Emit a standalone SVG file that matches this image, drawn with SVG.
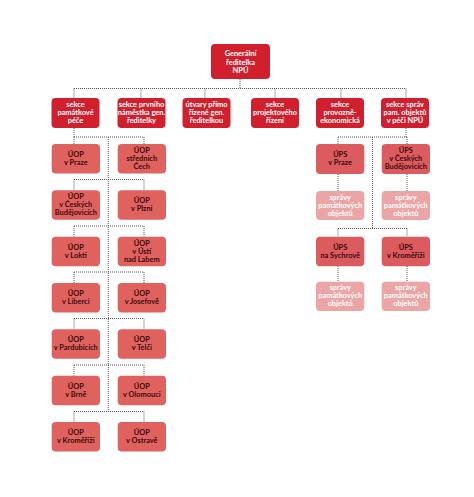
<svg xmlns="http://www.w3.org/2000/svg" width="474" height="497" viewBox="0 0 474 497">
<style>
text{font-family:Lato,"Open Sans","DejaVu Sans",sans-serif;font-weight:bold;font-size:7.4px;text-anchor:middle}
.d rect{fill:#d11f2e}
.d text{fill:#fff}
.u rect{fill:#e0625f}
.u text{fill:#3d0a0c}
.p rect{fill:#dc5b5e}
.p text{fill:#3d0a0c}
.s rect{fill:#eba5a6}
.s text{fill:#fff}
#connectors path{fill:none;stroke:#555;stroke-width:1;stroke-dasharray:1 1}
</style>
<rect width="474" height="497" fill="#fff"/>
<g id="connectors">
<path d="M240 79V88.5M74 88.5H406M74 88.5V98M141 88.5V98M205 88.5V98M275 88.5V98M341 88.5V98M406 88.5V98"/>
<path d="M74 128V137M74 137H144M108.3 137V411.5M74 137V144M144 137V144"/>
<path d="M74 179.5H144M74 179.5V190.3M144 179.5V190.3"/>
<path d="M74 226H144M74 226V236.7M144 226V236.7"/>
<path d="M74 272H144M74 272V283M144 272V283"/>
<path d="M74 318.5H144M74 318.5V329.3M144 318.5V329.3"/>
<path d="M74 365H144M74 365V375.7M144 365V375.7"/>
<path d="M74 411.5H144M74 411.5V422M144 411.5V422"/>
<path d="M406 128V137M338 137H407M372.5 137V228.5M338 137V144M407 137V144M338 228.5H407M338 228.5V236.7M407 228.5V236.7"/>
<path d="M338 174V191M407 174V191M338 266V281.7M407 266V281.7"/>
</g>
<g id="n-gr" class="d"><rect x="211" y="44" width="59" height="35" rx="4"/><text x="240.5" y="56.3">Generální</text><text x="240.5" y="64.6">ředitelka</text><text x="240.5" y="72.9">NPÚ</text></g>
<g id="n-s1" class="d"><rect x="51.5" y="98" width="48" height="30" rx="4"/><text x="75.5" y="107">sekce</text><text x="75.5" y="115">památkové</text><text x="75.5" y="123">péče</text></g>
<g id="n-s2" class="d"><rect x="117.5" y="98" width="48" height="30" rx="4"/><text x="141.5" y="107">sekce prvního</text><text x="141.5" y="115">náměstka gen.</text><text x="141.5" y="123">ředitelky</text></g>
<g id="n-s3" class="d"><rect x="182.5" y="98" width="48" height="30" rx="4"/><text x="206.5" y="107">útvary přímo</text><text x="206.5" y="115">řízené gen.</text><text x="206.5" y="123">ředitelkou</text></g>
<g id="n-s4" class="d"><rect x="251" y="98" width="48" height="30" rx="4"/><text x="275" y="107">sekce</text><text x="275" y="115">projektového</text><text x="275" y="123">řízení</text></g>
<g id="n-s5" class="d"><rect x="316" y="98" width="48" height="30" rx="4"/><text x="340" y="107">sekce</text><text x="340" y="115">provozně-</text><text x="340" y="123">ekonomická</text></g>
<g id="n-s6" class="d"><rect x="381" y="98" width="48" height="30" rx="4"/><text x="405" y="107">sekce správ</text><text x="405" y="115">pam. objektů</text><text x="405" y="123">v péči NPÚ</text></g>

<g id="n-u1" class="u"><rect x="51.7" y="144" width="48.3" height="29.5" rx="4"/><text x="75.8" y="157">ÚOP</text><text x="75.8" y="165">v Praze</text></g>
<g id="n-u2" class="u"><rect x="117.7" y="144" width="48.3" height="29.5" rx="4"/><text x="141.8" y="153">ÚOP</text><text x="141.8" y="161">středních</text><text x="141.8" y="169">Čech</text></g>
<g id="n-u3" class="u"><rect x="51.7" y="190.3" width="48.3" height="29.5" rx="4"/><text x="75.8" y="199.3">ÚOP</text><text x="75.8" y="207.3">v Českých</text><text x="75.8" y="215.3">Budějovicích</text></g>
<g id="n-u4" class="u"><rect x="117.7" y="190.3" width="48.3" height="29.5" rx="4"/><text x="141.8" y="203.3">ÚOP</text><text x="141.8" y="211.3">v Plzni</text></g>
<g id="n-u5" class="u"><rect x="51.7" y="236.7" width="48.3" height="29.5" rx="4"/><text x="75.8" y="249.7">ÚOP</text><text x="75.8" y="257.7">v Lokti</text></g>
<g id="n-u6" class="u"><rect x="117.7" y="236.7" width="48.3" height="29.5" rx="4"/><text x="141.8" y="245.7">ÚOP</text><text x="141.8" y="253.7">v Ústí</text><text x="141.8" y="261.7">nad Labem</text></g>
<g id="n-u7" class="u"><rect x="51.7" y="283" width="48.3" height="29.5" rx="4"/><text x="75.8" y="296">ÚOP</text><text x="75.8" y="304">v Liberci</text></g>
<g id="n-u8" class="u"><rect x="117.7" y="283" width="48.3" height="29.5" rx="4"/><text x="141.8" y="296">ÚOP</text><text x="141.8" y="304">v Josefově</text></g>
<g id="n-u9" class="u"><rect x="51.7" y="329.3" width="48.3" height="29.5" rx="4"/><text x="75.8" y="342.3">ÚOP</text><text x="75.8" y="350.3">v Pardubicích</text></g>
<g id="n-u10" class="u"><rect x="117.7" y="329.3" width="48.3" height="29.5" rx="4"/><text x="141.8" y="342.3">ÚOP</text><text x="141.8" y="350.3">v Telči</text></g>
<g id="n-u11" class="u"><rect x="51.7" y="375.7" width="48.3" height="29.5" rx="4"/><text x="75.8" y="388.7">ÚOP</text><text x="75.8" y="396.7">v Brně</text></g>
<g id="n-u12" class="u"><rect x="117.7" y="375.7" width="48.3" height="29.5" rx="4"/><text x="141.8" y="388.7">ÚOP</text><text x="141.8" y="396.7">v Olomouci</text></g>
<g id="n-u13" class="u"><rect x="51.7" y="422" width="48.3" height="29.5" rx="4"/><text x="75.8" y="435">ÚOP</text><text x="75.8" y="443">v Kroměříži</text></g>
<g id="n-u14" class="u"><rect x="117.7" y="422" width="48.3" height="29.5" rx="4"/><text x="141.8" y="435">ÚOP</text><text x="141.8" y="443">v Ostravě</text></g>

<g id="n-p1" class="p"><rect x="316" y="144" width="48.3" height="30" rx="4"/><text x="340.2" y="157.2">ÚPS</text><text x="340.2" y="165.2">v Praze</text></g>
<g id="n-p2" class="p"><rect x="381.7" y="144" width="48.3" height="30" rx="4"/><text x="405.8" y="153.2">ÚPS</text><text x="405.8" y="161.2">v Českých</text><text x="405.8" y="169.2">Budějovicích</text></g>
<g id="n-sp1" class="s"><rect x="316" y="191" width="48.3" height="29" rx="4"/><text x="340.2" y="199.7">správy</text><text x="340.2" y="207.7">památkových</text><text x="340.2" y="215.7">objektů</text></g>
<g id="n-sp2" class="s"><rect x="381.7" y="191" width="48.3" height="29" rx="4"/><text x="405.8" y="199.7">správy</text><text x="405.8" y="207.7">památkových</text><text x="405.8" y="215.7">objektů</text></g>
<g id="n-p3" class="p"><rect x="316" y="236.7" width="48.3" height="29.5" rx="4"/><text x="340.2" y="249.7">ÚPS</text><text x="340.2" y="257.7">na Sychrově</text></g>
<g id="n-p4" class="p"><rect x="381.7" y="236.7" width="48.3" height="29.5" rx="4"/><text x="405.8" y="249.7">ÚPS</text><text x="405.8" y="257.7">v Kroměříži</text></g>
<g id="n-sp3" class="s"><rect x="316" y="281.7" width="48.3" height="29.3" rx="4"/><text x="340.2" y="290.4">správy</text><text x="340.2" y="298.4">památkových</text><text x="340.2" y="306.4">objektů</text></g>
<g id="n-sp4" class="s"><rect x="381.7" y="281.7" width="48.3" height="29.3" rx="4"/><text x="405.8" y="290.4">správy</text><text x="405.8" y="298.4">památkových</text><text x="405.8" y="306.4">objektů</text></g>
</svg>
